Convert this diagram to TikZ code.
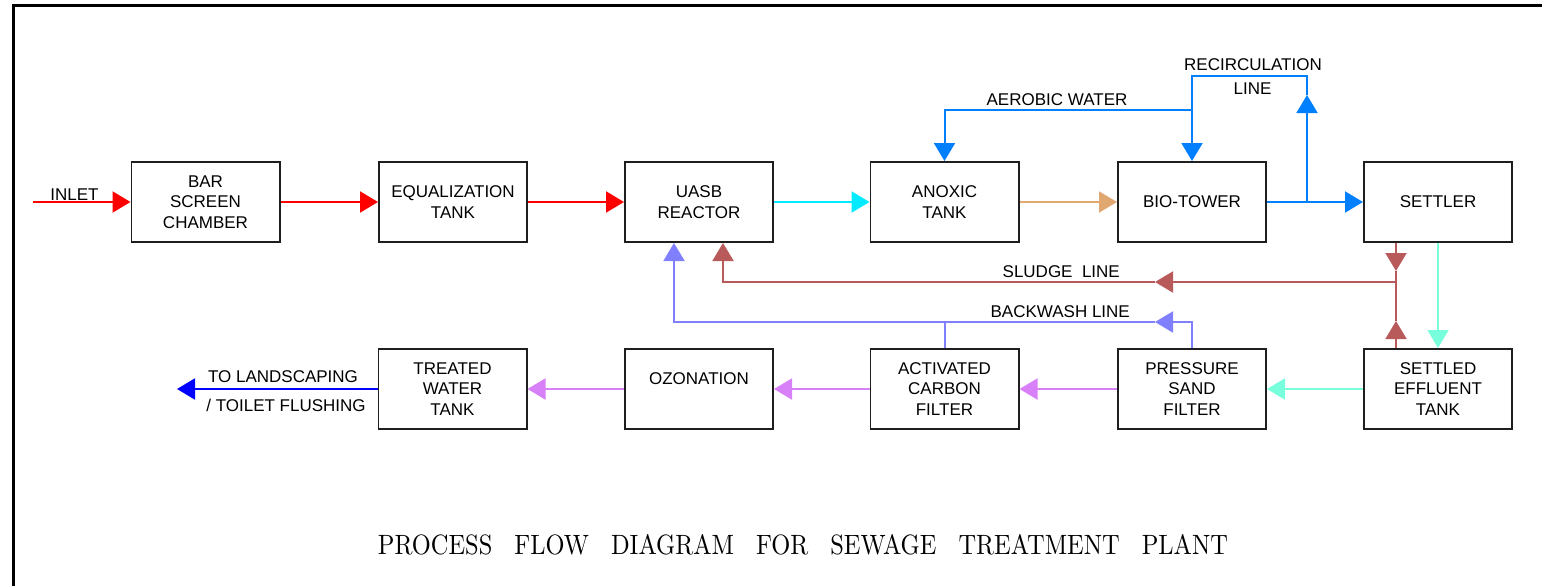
\documentclass[tikz,border=0pt]{standalone}
\usepackage{fontspec}
\setsansfont{Liberation Sans}
\usetikzlibrary{arrows.meta,calc}
\definecolor{boxc}{RGB}{30,30,30}
\definecolor{redc}{RGB}{255,0,0}
\definecolor{cyanc}{RGB}{0,235,255}
\definecolor{tanc}{RGB}{224,168,112}
\definecolor{bluec}{RGB}{0,128,255}
\definecolor{sludgec}{RGB}{185,90,90}
\definecolor{aquac}{RGB}{120,255,220}
\definecolor{bwc}{RGB}{128,128,255}
\definecolor{vioc}{RGB}{216,128,248}
\definecolor{outc}{RGB}{0,0,255}
\newcommand{\lblfont}{\sffamily\fontsize{17}{20.5}\selectfont}
\begin{document}
\begin{tikzpicture}[x=1pt,y=-1pt,
  box/.style={draw=boxc, line width=1.6pt, minimum width=148.4pt, minimum height=80.4pt, inner sep=0pt, align=center, font=\lblfont},
  lab/.style={font=\lblfont, inner sep=0pt, anchor=base},
  flow/.style={line width=2pt},
  tip/.style={-{Triangle[length=18pt,width=21pt]}}]
\useasboundingbox (0,0) rectangle (1542,586);
\draw[line width=3pt] (13.5,586) -- (13.5,5.5) -- (1542,5.5);
% top row
\node[box] (bar) at (205.5,202) {BAR\\SCREEN\\CHAMBER};
\node[box] (eq) at (453,202) {EQUALIZATION\\TANK};
\node[box] (uasb) at (699,202) {UASB\\REACTOR};
\node[box] (anox) at (944.5,202) {ANOXIC\\TANK};
\node[box] (bio) at (1192,202) {BIO-TOWER};
\node[box] (settler) at (1438,202) {SETTLER};
% bottom row
\node[box] (treated) at (452.5,389) {TREATED\\WATER\\TANK};
\node[box] (ozon) at (699,389) {OZONATION\\\mbox{}};
\node[box] (carbon) at (944.5,389) {ACTIVATED\\CARBON\\FILTER};
\node[box] (sand) at (1192,389) {PRESSURE\\SAND\\FILTER};
\node[box] (eff) at (1438,389) {SETTLED\\EFFLUENT\\TANK};
% helper coordinates
\coordinate (inlet) at (33,202);
\coordinate (rtip) at (1307,95);
\coordinate (rtop) at (1307,76);
\coordinate (aj) at (1192,110);
\coordinate (sdA) at (1396,271);
\coordinate (sdJ) at (1396,282);
\coordinate (sdB) at (1396,321);
\coordinate (sdL) at (1155,282);
\coordinate (sdU) at (723,282);
\coordinate (bwY) at (0,322);
\coordinate (bwL) at (1155,322);
\coordinate (bwU) at (674,322);
\coordinate (out) at (177,389);
% main flow
\draw[flow,redc,tip] (inlet) -- (bar.west);
\draw[flow,redc,tip] (bar) -- (eq);
\draw[flow,redc,tip] (eq) -- (uasb);
\draw[flow,cyanc,tip] (uasb) -- (anox);
\draw[flow,tanc,tip] (anox) -- (bio);
\draw[flow,bluec,tip] (bio) -- (settler);
% recirculation
\draw[flow,bluec,tip] (bio.east -| rtip) -- (rtip);
\draw[flow,bluec,tip] (rtip) -- (rtop) -| (bio.north);
\draw[flow,bluec,tip] (aj) -| (anox.north);
% sludge
\draw[flow,sludgec,tip] (settler.south -| sdA) -- (sdA);
\draw[flow,sludgec] (sdA) -- (sdJ);
\draw[flow,sludgec,tip] (eff.north -| sdB) -- (sdB);
\draw[flow,sludgec] (sdB) -- (sdJ);
\draw[flow,sludgec,tip] (sdJ) -- (sdL);
\draw[flow,sludgec,tip] (sdL) -- (sdU) -- (uasb.south -| sdU);
% backwash
\draw[flow,bwc,tip] (sand.north) |- (bwL);
\draw[flow,bwc,tip] (bwL) -- (bwU) -- (uasb.south -| bwU);
\draw[flow,bwc] (carbon.north) -- (carbon.north |- bwY);
% settled effluent
\draw[flow,aquac,tip] (settler.south) -- (eff.north);
\draw[flow,aquac,tip] (eff) -- (sand);
% tertiary
\draw[flow,vioc,tip] (sand) -- (carbon);
\draw[flow,vioc,tip] (carbon) -- (ozon);
\draw[flow,vioc,tip] (ozon) -- (treated);
\draw[flow,outc,tip] (treated) -- (out);
% labels
\node[lab] (inletl) at (74.5,200) {INLET};
\node[lab] (aerl) at (1057,105) {AEROBIC WATER};
\node[lab] (recl) at (1253,70.5) {RECIRCULATION};
\node[lab] (recl2) at (1252.5,95) {LINE};
\node[lab, anchor=base east] (sludl) at (1120,277.5) {SLUDGE\ \ LINE};
\node[lab, anchor=base east] (bwl) at (1130,317) {BACKWASH LINE};
\node[lab] (outl1) at (283,382) {TO LANDSCAPING};
\node[lab] (outl2) at (286,411) {/ TOILET FLUSHING};
% title
\node[anchor=base, inner sep=0pt] (title) at (803,554) {\resizebox{850pt}{20pt}{\addfontfeature{LetterSpace=30}PROCESS\hspace{0.9em}FLOW\hspace{0.9em}DIAGRAM\hspace{0.9em}FOR\hspace{0.9em}SEWAGE\hspace{0.9em}TREATMENT\hspace{0.9em}PLANT}};
\end{tikzpicture}
\end{document}
